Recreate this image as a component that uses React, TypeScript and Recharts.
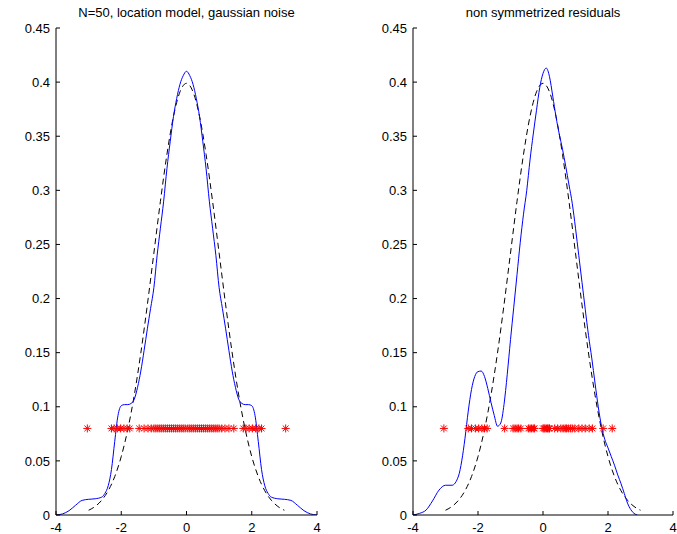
import React from 'react';
import { ComposedChart, Line, Scatter, XAxis, YAxis } from 'recharts';

// x ticks / y ticks shared by both panels
const xTicks = [-4, -2, 0, 2, 4];
const yTicks = [0, 0.05, 0.1, 0.15, 0.2, 0.25, 0.3, 0.35, 0.4, 0.45];

// standard normal pdf, dashed reference
const normX = [-3, -2.8, -2.6, -2.4, -2.2, -2, -1.8, -1.6, -1.4, -1.2, -1, -0.8, -0.6, -0.4, -0.2, 0,
  0.2, 0.4, 0.6, 0.8, 1, 1.2, 1.4, 1.6, 1.8, 2, 2.2, 2.4, 2.6, 2.8, 3];
const normY = [0.0044, 0.0079, 0.0136, 0.0224, 0.0355, 0.054, 0.079, 0.1109, 0.1497, 0.1942, 0.242, 0.2897, 0.3332, 0.3683, 0.391, 0.3989,
  0.391, 0.3683, 0.3332, 0.2897, 0.242, 0.1942, 0.1497, 0.1109, 0.079, 0.054, 0.0355, 0.0224, 0.0136, 0.0079, 0.0044];

// left panel: kernel density, symmetrized residuals
const leftKdeX = [-4, -3.8, -3.6, -3.4, -3.2, -3, -2.8, -2.6, -2.5, -2.4, -2.3, -2.2, -2.1, -2, -1.9, -1.8, -1.7, -1.6, -1.5, -1.4, -1.3, -1.2, -1.1, -1, -0.9, -0.8, -0.7, -0.6, -0.5, -0.4, -0.3, -0.2, -0.1, 0,
  0.1, 0.2, 0.3, 0.4, 0.5, 0.6, 0.7, 0.8, 0.9, 1, 1.1, 1.2, 1.3, 1.4, 1.5, 1.6, 1.7, 1.8, 1.9, 2, 2.1, 2.2, 2.3, 2.4, 2.5, 2.6, 2.8, 3, 3.2, 3.4, 3.6, 3.8, 4];
const leftKdeY = [0, 0.001, 0.004, 0.009, 0.0135, 0.0145, 0.015, 0.0165, 0.02, 0.027, 0.042, 0.068, 0.092, 0.101, 0.102, 0.102, 0.103, 0.107, 0.118, 0.133, 0.152, 0.172, 0.191, 0.21, 0.24, 0.265, 0.29, 0.32, 0.345, 0.368, 0.385, 0.398, 0.406, 0.41,
  0.406, 0.398, 0.385, 0.368, 0.345, 0.32, 0.29, 0.265, 0.24, 0.21, 0.191, 0.172, 0.152, 0.133, 0.118, 0.107, 0.103, 0.102, 0.102, 0.101, 0.092, 0.068, 0.042, 0.027, 0.02, 0.0165, 0.015, 0.0145, 0.0135, 0.009, 0.004, 0.001, 0];
const leftStars = [-3.04, -2.3, -2.22, -2.12, -2.02, -1.92, -1.82, -1.74, -1.45, -1.3, -1.18, -1.08, -1.0, -0.94, -0.88, -0.82, -0.76, -0.7, -0.64, -0.58, -0.52, -0.46, -0.4, -0.34, -0.28, -0.22, -0.16, -0.1, -0.04,
  0.04, 0.1, 0.16, 0.22, 0.28, 0.34, 0.4, 0.46, 0.52, 0.58, 0.64, 0.7, 0.76, 0.82, 0.88, 0.94, 1.0, 1.08, 1.18, 1.3, 1.45, 1.74, 1.82, 1.92, 2.02, 2.12, 2.22, 2.3, 3.04];

// right panel: kernel density, raw residuals
const rightKdeX = [-4, -3.8, -3.6, -3.4, -3.2, -3, -2.8, -2.6, -2.5, -2.4, -2.3, -2.2, -2.1, -2, -1.9, -1.8, -1.7, -1.6, -1.5, -1.4, -1.3, -1.2, -1.1, -1, -0.9, -0.8, -0.7, -0.6, -0.5, -0.4, -0.3, -0.2, -0.1, 0,
  0.1, 0.2, 0.3, 0.4, 0.5, 0.6, 0.7, 0.8, 0.9, 1, 1.1, 1.2, 1.3, 1.4, 1.5, 1.6, 1.7, 1.8, 1.9, 2, 2.1, 2.2, 2.3, 2.4, 2.5, 2.6, 2.7, 2.8, 2.9];
const rightKdeY = [0, 0.0015, 0.0045, 0.013, 0.023, 0.0275, 0.0275, 0.036, 0.05, 0.071, 0.096, 0.116, 0.128, 0.1325, 0.133, 0.128, 0.117, 0.104, 0.092, 0.082, 0.085, 0.102, 0.13, 0.162, 0.192, 0.222, 0.252, 0.278, 0.3, 0.328, 0.352, 0.374, 0.395, 0.408,
  0.413, 0.405, 0.387, 0.368, 0.352, 0.338, 0.322, 0.305, 0.288, 0.265, 0.24, 0.215, 0.19, 0.166, 0.145, 0.122, 0.1, 0.082, 0.07, 0.062, 0.054, 0.046, 0.037, 0.029, 0.02, 0.011, 0.005, 0.0015, 0];
const rightStars = [-3.05, -2.3, -2.2, -2.08, -1.98, -1.88, -1.8, -1.72, -1.18, -0.92, -0.86, -0.8, -0.75, -0.68, -0.45, -0.4, -0.35, -0.3, -0.26,
  0.0, 0.03, 0.06, 0.1, 0.14, 0.18, 0.2, 0.36, 0.45, 0.55, 0.62, 0.68, 0.72, 0.78, 0.85, 0.9, 0.98, 1.1, 1.2, 1.3, 1.42, 1.52, 1.85, 2.13];

const starLevel = 0.08;

const toPoints = (xs: number[], ys: number[]) => xs.map((x, i) => ({ x, y: ys[i] }));

const Asterisk = (props: any) => {
  const { cx, cy } = props;
  const r = 4;
  const d = 2.9;
  return (
    <g stroke="#ff0000" strokeWidth={1}>
      <line x1={cx - r} y1={cy} x2={cx + r} y2={cy} />
      <line x1={cx} y1={cy - r} x2={cx} y2={cy + r} />
      <line x1={cx - d} y1={cy - d} x2={cx + d} y2={cy + d} />
      <line x1={cx - d} y1={cy + d} x2={cx + d} y2={cy - d} />
    </g>
  );
};

const font = { fontFamily: '"Liberation Sans", Arial, sans-serif', fontSize: 13, fill: '#000' };

interface PanelProps {
  left: number;
  width: number;
  margin: { top: number; right: number; bottom: number; left: number };
  title: string;
  kde: { x: number; y: number }[];
  stars: number[];
}

function Panel({ left, width, margin, title, kde, stars }: PanelProps) {
  const norm = toPoints(normX, normY);
  const starPts = stars.map((x) => ({ x, y: starLevel }));
  const plotLeft = margin.left + 50;
  const plotRight = width - margin.right;
  return (
    <div style={{ position: 'absolute', left, top: 0, width, height: 534 }}>
      <div
        style={{
          position: 'absolute',
          left: plotLeft,
          width: plotRight - plotLeft,
          top: 5,
          textAlign: 'center',
          fontFamily: font.fontFamily,
          fontSize: 13,
          lineHeight: '15px',
          whiteSpace: 'nowrap',
        }}
      >
        {title}
      </div>
      <ComposedChart width={width} height={534} margin={margin}>
        <XAxis
          xAxisId="b"
          type="number"
          dataKey="x"
          domain={[-4, 4]}
          ticks={xTicks}
          allowDataOverflow
          height={19}
          stroke="#000"
          tickSize={-4}
          tickMargin={12}
          tick={font}
        />
        <XAxis
          xAxisId="t"
          orientation="top"
          type="number"
          dataKey="x"
          domain={[-4, 4]}
          ticks={xTicks}
          height={0}
          stroke="#000"
          tickSize={-4}
          tick={false}
        />
        <YAxis
          yAxisId="l"
          type="number"
          dataKey="y"
          domain={[0, 0.45]}
          ticks={yTicks}
          allowDataOverflow
          width={50}
          stroke="#000"
          tickSize={-4}
          tickMargin={10}
          tick={font}
        />
        <YAxis
          yAxisId="r"
          orientation="right"
          type="number"
          dataKey="y"
          domain={[0, 0.45]}
          ticks={yTicks}
          width={0}
          stroke="#000"
          tickSize={-4}
          tick={false}
        />
        <Line
          xAxisId="b"
          yAxisId="l"
          data={norm}
          dataKey="y"
          type="monotone"
          stroke="#000"
          strokeWidth={1}
          strokeDasharray="6 4"
          dot={false}
          isAnimationActive={false}
        />
        <Line
          xAxisId="b"
          yAxisId="l"
          data={kde}
          dataKey="y"
          type="monotone"
          stroke="#0000ff"
          strokeWidth={1}
          dot={false}
          isAnimationActive={false}
        />
        <Scatter
          xAxisId="b"
          yAxisId="l"
          data={starPts}
          dataKey="y"
          shape={Asterisk}
          isAnimationActive={false}
        />
      </ComposedChart>
    </div>
  );
}

export default function App() {
  return (
    <div style={{ position: 'absolute', left: 0, top: 0, width: 677, height: 534, background: '#fff' }}>
      <Panel
        left={0}
        width={340}
        margin={{ top: 28, right: 23, bottom: 0, left: 6 }}
        title="N=50, location model, gaussian noise"
        kde={toPoints(leftKdeX, leftKdeY)}
        stars={leftStars}
      />
      <Panel
        left={340}
        width={337}
        margin={{ top: 28, right: 4, bottom: 0, left: 23 }}
        title="non symmetrized residuals"
        kde={toPoints(rightKdeX, rightKdeY)}
        stars={rightStars}
      />
    </div>
  );
}
